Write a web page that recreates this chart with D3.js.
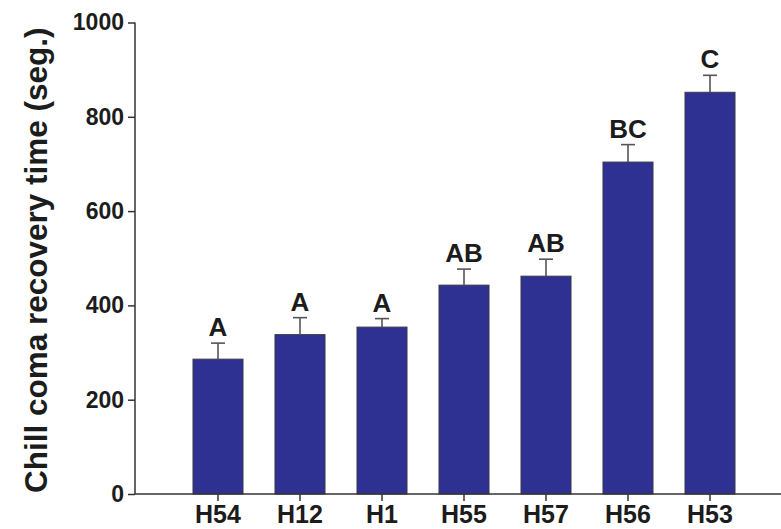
<!DOCTYPE html>
<html>
<head>
<meta charset="utf-8">
<script src="https://cdn.jsdelivr.net/npm/d3@7"></script>
<style>
  html, body { margin: 0; padding: 0; background: #fff; }
  svg { display: block; }
  text { font-family: "Liberation Sans", Arial, sans-serif; font-weight: bold; fill: #1c1c1c; }
</style>
</head>
<body>
<svg id="chart" width="781" height="529"></svg>
<script>
// Chill coma recovery time per line (mean ± SEM) with significance groups
const categories = ["H54", "H12", "H1", "H55", "H57", "H56", "H53"];
const means      = [286, 338, 354, 443, 462, 704, 852];
const sem        = [34, 36, 18, 34, 36, 37, 36];
const groups     = ["A", "A", "A", "AB", "AB", "BC", "C"];
const yTicks     = [0, 200, 400, 600, 800, 1000];
const yLabel     = "Chill coma recovery time (seg.)";

const svg = d3.select("#chart");
const axisX = 135, baseY = 494, topY = 22.5;

const x = d3.scaleBand()
  .domain(categories)
  .range([177, 751])
  .paddingInner(0.39)
  .paddingOuter(0.195);

const y = d3.scaleLinear().domain([0, 1000]).range([baseY, topY]);

const axisColor = "#333";

// bars
svg.append("g").selectAll("rect")
  .data(categories)
  .join("rect")
  .attr("x", d => x(d))
  .attr("y", (d, i) => y(means[i]))
  .attr("width", x.bandwidth())
  .attr("height", (d, i) => y(0) - y(means[i]))
  .attr("fill", "#2e3192")
  .attr("stroke", "#3a3a4a")
  .attr("stroke-width", 1);

// upper error bars
const eb = svg.append("g").attr("stroke", "#555").attr("stroke-width", 1.6);
categories.forEach((c, i) => {
  const cx = x(c) + x.bandwidth() / 2;
  eb.append("line").attr("x1", cx).attr("x2", cx)
    .attr("y1", y(means[i])).attr("y2", y(means[i] + sem[i]));
  eb.append("line").attr("x1", cx - 7).attr("x2", cx + 7)
    .attr("y1", y(means[i] + sem[i])).attr("y2", y(means[i] + sem[i]));
});

// significance letters
svg.append("g").selectAll("text")
  .data(categories)
  .join("text")
  .attr("x", d => x(d) + x.bandwidth() / 2)
  .attr("y", (d, i) => y(means[i] + sem[i]) - 7)
  .attr("text-anchor", "middle")
  .attr("font-size", 26)
  .text((d, i) => groups[i]);

// y axis
const yAxis = svg.append("g")
  .attr("transform", `translate(${axisX},0)`)
  .call(d3.axisLeft(y).tickValues(yTicks).tickSize(7).tickPadding(4).tickFormat(d3.format("d")));
yAxis.select(".domain").attr("d", `M0,${baseY}V${topY}`);
yAxis.selectAll("line, path").attr("stroke", axisColor).attr("stroke-width", 1.5);
yAxis.selectAll("text").attr("font-size", 23).attr("font-family", null).attr("fill", null);

// x axis
const xAxis = svg.append("g")
  .attr("transform", `translate(0,${baseY})`)
  .call(d3.axisBottom(x).tickSize(7).tickPadding(4));
xAxis.select(".domain").attr("d", `M${axisX},0H781`);
xAxis.selectAll("line, path").attr("stroke", axisColor).attr("stroke-width", 1.5);
xAxis.selectAll("text").attr("font-size", 25).attr("font-family", null).attr("fill", null);

// y axis title
svg.append("text")
  .attr("transform", `translate(47,${(baseY + topY) / 2 + 2}) rotate(-90)`)
  .attr("text-anchor", "middle")
  .attr("font-size", 31.5)
  .text(yLabel);
</script>
</body>
</html>
